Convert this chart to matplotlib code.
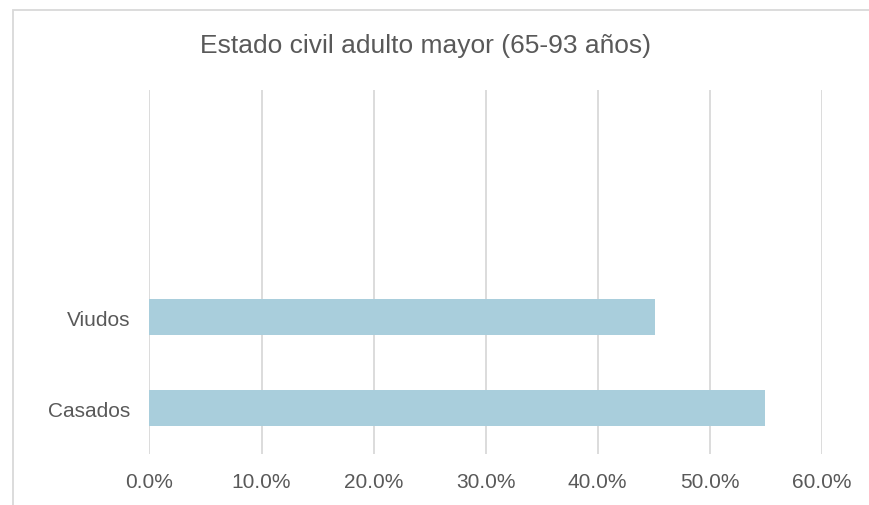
import matplotlib
matplotlib.use("Agg")
import matplotlib.pyplot as plt
from matplotlib.patches import Rectangle
from matplotlib.ticker import FuncFormatter

plt.rcParams['font.family'] = ['Liberation Sans', 'DejaVu Sans']

categories = ["Casados", "Viudos", "", ""]
values = [54.9, 45.1, None, None]
x_ticks = [0, 10, 20, 30, 40, 50, 60]
title = "Estado civil adulto mayor (65-93 años)"

bar_color = "#A9CEDC"
text_color = "#595959"
grid_color = "#D9D9D9"

fig = plt.figure(figsize=(8.70, 5.06), dpi=100)
ax = fig.add_axes([149.5 / 870, 1 - 454.5 / 506, (821.7 - 149.5) / 870, (454.5 - 91) / 506])

positions = list(range(len(categories)))
for pos, val in zip(positions, values):
    if val is not None:
        ax.barh(pos, val, height=0.4, color=bar_color, zorder=3)

ax.set_xlim(0, 60)
ax.set_ylim(-0.5, len(categories) - 0.5)
ax.set_xticks(x_ticks)
ax.xaxis.set_major_formatter(FuncFormatter(lambda v, _: f"{v:.1f}%"))
ax.set_yticks(positions)
ax.set_yticklabels(categories)

ax.grid(axis="x", color=grid_color, linewidth=1.3, zorder=0)
ax.tick_params(axis="both", length=0, labelsize=15, colors=text_color)
ax.tick_params(axis="x", pad=13.5)
ax.tick_params(axis="y", pad=14)
for s in ax.spines.values():
    s.set_visible(False)

fig.text(426 / 870, 1 - 46 / 506, title, ha="center", va="center",
         fontsize=19, color=text_color)

# chart area outline
fig.patches.append(Rectangle((13 / 870, -0.1), 1.2, (506 - 11) / 506 + 0.1,
                             transform=fig.transFigure, fill=False,
                             edgecolor=grid_color, linewidth=1.3))

fig.savefig("out.png", dpi=100)
